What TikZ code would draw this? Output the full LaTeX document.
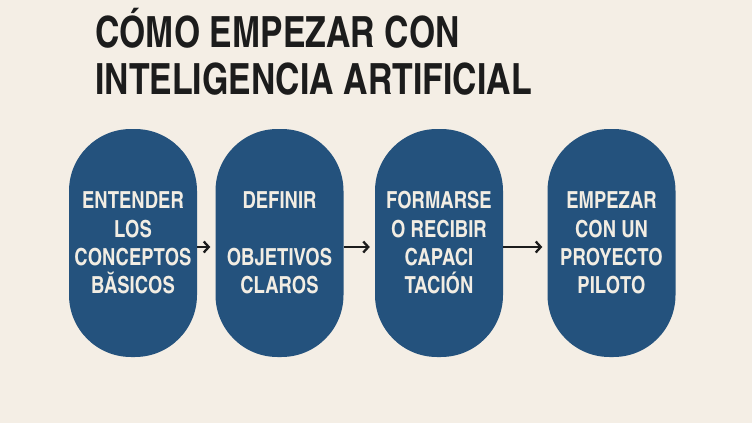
\documentclass[tikz,border=0pt]{standalone}
\usepackage{fontspec}
\usepackage{tikz}
\usetikzlibrary{arrows.meta}
\newfontfamily\heroscn{texgyreheroscn-bold.otf}[FakeStretch=0.96]
\definecolor{paper}{HTML}{F4EEE5}
\definecolor{stageblue}{HTML}{24527D}
\definecolor{stagetext}{HTML}{F2EDE3}
\definecolor{ink}{HTML}{1C1C1C}

\begin{document}
\begin{tikzpicture}[x=1pt, y=-1pt,
        stage/.style={fill=stageblue, rounded corners=62pt, minimum width=128pt, minimum height=228pt,
            text=stagetext, align=center, inner sep=0pt, font=\heroscn\fontsize{23.5}{28.3}\selectfont},
        flow/.style={ink, line width=2.3pt, -{Straight Barb[length=5pt, width=11pt]}, shorten >=5pt}]
            \fill[paper] (0,0) rectangle (752,423);
            \useasboundingbox (0,0) rectangle (752,423);

            \node[anchor=base west, inner sep=0pt, text=ink, align=left,
                font=\heroscn\fontsize{43}{47}\selectfont] (title) at (95,94)
                {CÓMO EMPEZAR CON\\INTELIGENCIA ARTIFICIAL};

            \node[stage] (basics) at (133,243) {ENTENDER\\LOS\\CONCEPTOS\\BĂSICOS};
            \node[stage] (goals) at (279.5,243) {DEFINIR\\[28.3pt]OBJETIVOS\\CLAROS};
            \node[stage] (training) at (439,243) {FORMARSE\\O RECIBIR\\CAPACI\\TACIÓN};
            \node[stage] (pilot) at (611.5,243) {EMPEZAR\\CON UN\\PROYECTO\\PILOTO};

            \draw[flow] ([yshift=-4pt]basics.east) -- ([yshift=-4pt]goals.west);
            \draw[flow] ([yshift=-4pt]goals.east) -- ([yshift=-4pt]training.west);
            \draw[flow] ([yshift=-4pt]training.east) -- ([yshift=-4pt]pilot.west);
        \end{tikzpicture}
\end{document}
